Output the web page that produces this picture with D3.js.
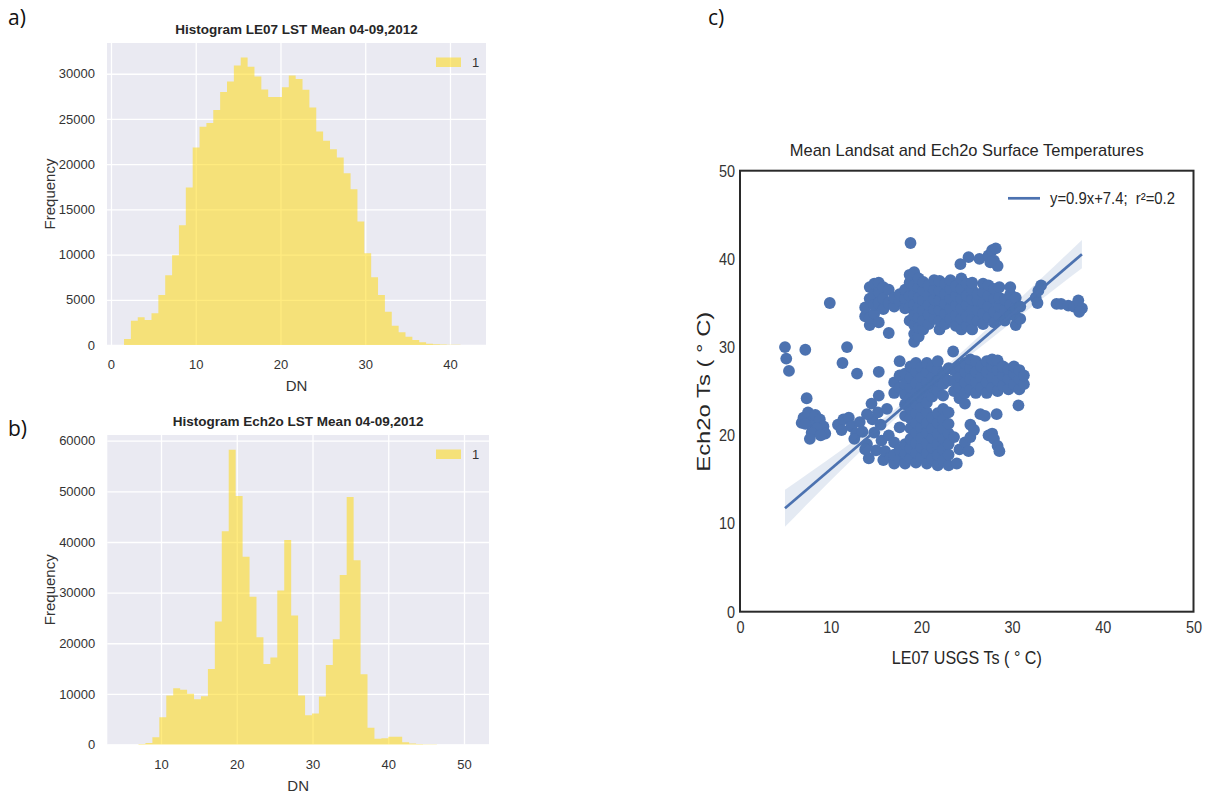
<!DOCTYPE html>
<html><head><meta charset="utf-8">
<script src="https://cdn.jsdelivr.net/npm/d3@7"></script>
<style>
body{margin:0;background:#fff}
svg{display:block}
text{font-family:"Liberation Sans",Arial,sans-serif}
</style>
</head><body>
<svg id="c" width="1206" height="795"></svg>
<script>
// ---------------- DATA ----------------
// Histogram a) LE07 LST mean: 50 bins
const histA_counts = [660,2690,3060,2770,3500,5530,7710,9930,13250,17420,21850,24130,24540,25980,27970,29150,30920,31800,30770,29700,28270,27420,27420,28520,29810,29410,28230,26270,23620,22580,21660,20740,19000,17230,13650,10150,7490,5530,3690,2140,1400,920,550,300,150,80,50,30,20,10];
const histA_binStart = 1.54, histA_binWidth = 0.81;
const histA_xTicks = [0,10,20,30,40];
const histA_yTicks = [0,5000,10000,15000,20000,25000,30000];
const histA_title = "Histogram LE07 LST Mean 04-09,2012";

// Histogram b) Ech2o LST mean: 50 bins
const histB_counts = [10,20,80,300,1450,5400,9700,11100,10800,10000,8950,9540,14900,24300,42100,58200,49100,37100,29200,21200,15900,17200,30400,40400,25500,9700,5800,6100,9500,15700,20800,33500,48900,36400,13900,3300,1120,1250,1520,1520,460,200,100,60,40,20,10,10,5,5];
const histB_binStart = 5.2, histB_binWidth = 0.916;
const histB_xTicks = [10,20,30,40,50];
const histB_yTicks = [0,10000,20000,30000,40000,50000,60000];
const histB_title = "Histogram Ech2o LST Mean 04-09,2012";

const legendLabel = "1";

// Scatter c)
const scatterTicks = [0,10,20,30,40,50];
const scatterTitle = "Mean Landsat and Ech2o Surface Temperatures";
const fitSlope = 0.88, fitIntercept = 7.36;
const fitLabel = "y=0.9x+7.4;\u00a0\u00a0r\u00b2=0.2";
const ciX    = [4.96,8,11,14,17,20,23,26,29,32,35,37.7];
const ciHalf = [2.1,1.6,1.15,0.8,0.55,0.45,0.5,0.65,0.85,1.1,1.35,1.6];

const scatterPoints = [
 // isolated
 [4.96,30.0],[5.1,28.7],[5.4,27.3],[7.2,29.7],[7.35,24.2],[9.9,35.0],[11.8,30.0],[11.3,28.2],[12.9,27.0],[15.3,27.2],[23.5,29.5],[18.8,41.8],[16.4,31.6],
 // left low cluster
 [6.8,21.4],[7.0,22.0],[7.5,22.6],[7.8,21.5],[8.3,22.3],[8.8,21.8],[9.2,21.0],[9.4,20.2],[8.5,20.8],[7.9,20.3],[7.7,19.6],[7.2,21.3],[8.9,20.0],
 // cluster B
 [10.8,21.2],[11.4,21.8],[11.2,20.6],[12.0,22.0],[12.3,21.0],[12.8,20.2],[13.2,21.5],[12.6,19.6],[13.5,20.4],
 // cluster C
 [14.0,19.0],[14.2,17.4],[14.5,23.6],[14.6,21.8],[14.8,20.3],[15.0,18.3],[15.3,24.5],[15.2,22.6],[15.5,21.2],[15.6,19.4],[15.8,17.2],[16.0,18.2],[16.2,23.0],[16.4,20.0],[16.6,17.5],[14.0,22.4],[13.8,18.4],
 // dense lower block
 [17.0,16.8],[17.0,17.8],[17.0,19.2],[17.0,24.8],[17.0,26.0],
 [17.6,17.3],[17.6,18.4],[17.6,20.9],[17.6,25.4],[17.6,26.8],[17.6,28.4],
 [18.2,16.8],[18.2,17.9],[18.2,19.0],[18.2,22.2],[18.2,23.5],[18.2,24.6],[18.2,25.8],[18.2,27.0],
 [18.8,17.4],[18.8,18.5],[18.8,19.6],[18.8,20.8],[18.8,21.9],[18.8,23.0],[18.8,24.2],[18.8,25.4],[18.8,26.5],[18.8,27.8],
 [19.4,16.9],[19.4,18.0],[19.4,19.1],[19.4,20.3],[19.4,21.4],[19.4,22.5],[19.4,23.6],[19.4,24.8],[19.4,25.9],[19.4,27.2],[19.4,28.2],
 [20.0,17.5],[20.0,18.6],[20.0,19.7],[20.0,20.9],[20.0,22.0],[20.0,23.2],[20.0,24.3],[20.0,25.4],[20.0,26.6],[20.0,27.7],
 [20.6,16.8],[20.6,18.0],[20.6,19.1],[20.6,20.3],[20.6,21.4],[20.6,22.6],[20.6,23.7],[20.6,24.9],[20.6,26.0],[20.6,27.2],[20.6,28.2],
 [21.2,17.4],[21.2,18.6],[21.2,19.7],[21.2,20.8],[21.2,22.0],[21.2,24.4],[21.2,25.5],[21.2,26.6],[21.2,27.8],
 [21.8,16.6],[21.8,17.8],[21.8,19.0],[21.8,20.2],[21.8,21.4],[21.8,22.5],[21.8,25.0],[21.8,26.2],[21.8,27.4],[21.8,28.4],
 [22.4,17.2],[22.4,18.4],[22.4,19.6],[22.4,20.8],[22.4,21.8],[22.4,23.0],[22.4,24.5],[22.4,25.8],[22.4,27.0],
 [23.0,16.6],[23.0,17.8],[23.0,19.0],[23.0,20.2],[23.0,21.3],[23.0,22.6],[23.0,26.2],[23.0,27.6],
 // lower right band
 [23.6,25.0],[23.6,26.2],[23.6,27.4],
 [24.2,24.2],[24.2,25.4],[24.2,26.6],[24.2,27.8],
 [24.8,23.6],[24.8,24.8],[24.8,26.0],[24.8,27.2],[24.8,28.2],
 [25.4,25.2],[25.4,26.4],[25.4,27.6],[25.4,28.6],
 [26.0,24.8],[26.0,26.0],[26.0,27.2],[26.0,28.4],
 [26.6,25.4],[26.6,26.6],[26.6,27.8],
 [27.2,24.8],[27.2,26.0],[27.2,27.2],[27.2,28.4],
 [27.8,25.4],[27.8,26.6],[27.8,27.8],[27.8,28.6],
 [28.4,25.0],[28.4,26.2],[28.4,27.4],[28.4,28.5],
 [29.0,25.6],[29.0,26.8],[29.0,27.8],
 [29.6,25.2],[29.6,26.4],[29.6,27.5],
 [30.2,25.8],[30.2,27.0],[30.2,27.8],
 [30.8,25.2],[30.8,26.4],[30.8,27.4],
 [31.3,25.8],[31.3,26.8],[30.7,23.4],
 // right of lower block
 [23.6,19.8],[24.2,18.4],[24.8,19.2],[25.4,19.8],[25.2,18.2],[23.9,16.8],[25.4,21.2],[25.8,20.6],
 [26.5,22.4],[27.0,22.2],[28.3,22.4],
 [27.4,20.0],[27.8,20.2],[28.0,19.6],[28.4,18.8],[28.6,18.2],
 // upper band
 [13.8,33.5],[13.8,34.5],
 [14.3,32.5],[14.3,33.3],[14.3,35.5],[14.3,36.8],
 [14.8,33.8],[14.8,34.8],[14.8,36.0],[14.8,37.2],
 [15.3,32.8],[15.3,35.0],[15.3,36.2],[15.3,37.3],
 [15.8,34.3],[15.8,35.5],[15.8,36.8],
 [16.4,35.0],[16.4,36.5],
 [17.0,34.6],[17.0,35.6],
 [17.6,35.2],[17.6,36.0],
 [18.2,34.4],[18.2,35.5],[18.2,36.5],
 [18.7,33.0],[18.7,34.5],[18.7,35.8],[18.7,37.3],[18.7,38.2],
 [19.2,30.6],[19.2,31.5],[19.2,32.5],[19.2,33.6],[19.2,34.8],[19.2,36.0],[19.2,37.0],[19.2,38.5],
 [19.7,31.2],[19.7,32.2],[19.7,33.4],[19.7,34.5],[19.7,35.6],[19.7,36.8],[19.7,37.8],
 [20.2,32.0],[20.2,33.0],[20.2,34.2],[20.2,35.3],[20.2,36.4],[20.2,37.4],
 [20.8,32.6],[20.8,33.7],[20.8,34.8],[20.8,35.9],[20.8,37.0],
 [21.4,33.2],[21.4,34.3],[21.4,35.4],[21.4,36.5],[21.4,37.6],
 [22.0,32.0],[22.0,33.0],[22.0,34.2],[22.0,35.3],[22.0,36.4],[22.0,37.5],
 [22.6,32.6],[22.6,33.8],[22.6,34.9],[22.6,36.0],[22.6,37.2],
 [23.2,33.2],[23.2,34.4],[23.2,35.5],[23.2,36.6],[23.2,37.6],
 [23.8,32.4],[23.8,33.6],[23.8,34.7],[23.8,35.8],[23.8,36.9],
 [24.4,32.0],[24.4,33.2],[24.4,34.4],[24.4,35.5],[24.4,36.6],[24.4,37.8],
 [25.0,32.4],[25.0,33.5],[25.0,34.8],[25.0,35.8],[25.0,37.2],
 [25.6,32.0],[25.6,33.2],[25.6,34.3],[25.6,35.4],[25.6,36.5],[25.6,37.3],
 [26.2,33.0],[26.2,34.2],[26.2,35.3],[26.2,36.0],
 [26.8,32.6],[26.8,33.8],[26.8,35.0],[26.8,36.2],[26.8,37.2],
 [27.4,33.4],[27.4,34.6],[27.4,35.8],[27.4,37.0],
 [28.0,32.8],[28.0,34.0],[28.0,35.5],[28.0,36.6],
 [28.6,33.5],[28.6,34.6],[28.6,35.6],[28.6,36.8],
 [29.2,33.0],[29.2,34.2],[29.2,35.4],
 [29.8,33.7],[29.8,34.8],[29.8,36.0],[29.8,36.8],
 [30.4,32.5],[30.4,33.5],[30.4,34.4],[30.4,35.6],
 [30.9,33.2],[30.9,34.6],
 // upper outliers
 [24.3,39.4],[25.2,40.2],[26.4,40.0],[27.4,40.4],[27.8,41.0],[28.2,41.2],[28.0,39.8],[28.4,39.2],[27.6,39.6],
 // right group
 [32.6,35.6],[32.9,36.4],[33.2,37.0],[32.8,35.0],[34.9,34.9],[35.4,34.9],[36.2,34.7],[36.8,34.6],[37.3,35.3],[37.7,34.4],[37.4,34.0]
];

// ---------------- DRAW ----------------
const svg = d3.select("#c");
const tickColor = "#333";

function hist(o){
  const x = d3.scaleLinear().domain(o.xDomain).range([o.left,o.right]);
  const y = d3.scaleLinear().domain(o.yDomain).range([o.bottom,o.top]);
  const g = svg.append("g");
  g.append("rect").attr("x",o.left).attr("y",o.top)
    .attr("width",o.right-o.left).attr("height",o.bottom-o.top).attr("fill","#eaeaf2");
  // grid
  g.append("g").attr("transform",`translate(0,${o.bottom})`)
    .call(d3.axisBottom(x).tickValues(o.xTicks).tickSize(-(o.bottom-o.top)).tickFormat(""))
    .call(s=>{s.select(".domain").remove(); s.selectAll("line").attr("stroke","#fff").attr("stroke-width",1.3);});
  g.append("g").attr("transform",`translate(${o.left},0)`)
    .call(d3.axisLeft(y).tickValues(o.yTicks).tickSize(-(o.right-o.left)).tickFormat(""))
    .call(s=>{s.select(".domain").remove(); s.selectAll("line").attr("stroke","#fff").attr("stroke-width",1.3);});
  // bars (single step path, no seams)
  const bins = o.counts.map((c,i)=>({x0:o.start+i*o.width, c}));
  bins.push({x0:o.start+o.counts.length*o.width, c:o.counts[o.counts.length-1]});
  const area = d3.area().x(d=>x(d.x0)).y0(y(0)).y1(d=>y(d.c)).curve(d3.curveStepAfter);
  g.append("path").datum(bins).attr("d",area).attr("fill","#FFD700").attr("fill-opacity",0.5);
  // tick labels
  g.append("g").attr("transform",`translate(0,${o.bottom})`)
    .call(d3.axisBottom(x).tickValues(o.xTicks).tickSize(0).tickPadding(15))
    .call(s=>{s.select(".domain").remove(); s.selectAll("text").attr("fill",tickColor).style("font-size","13px").style("font-family","Liberation Sans, Arial, sans-serif");});
  g.append("g").attr("transform",`translate(${o.left},0)`)
    .call(d3.axisLeft(y).tickValues(o.yTicks).tickSize(0).tickPadding(12).tickFormat(d3.format("d")))
    .call(s=>{s.select(".domain").remove(); s.selectAll("text").attr("fill",tickColor).style("font-size","13px").style("font-family","Liberation Sans, Arial, sans-serif");});
  // title
  g.append("text").attr("x",(o.left+o.right)/2).attr("y",o.titleY).attr("text-anchor","middle")
    .attr("font-weight","bold").attr("font-size",13.5).attr("fill","#262626").text(o.title);
  // axis labels
  g.append("text").attr("x",(o.left+o.right)/2).attr("y",o.bottom+46).attr("text-anchor","middle")
    .attr("font-size",15).attr("fill",tickColor).text("DN");
  g.append("text").attr("transform",`translate(55,${(o.top+o.bottom)/2}) rotate(-90)`).attr("text-anchor","middle")
    .attr("font-size",15).attr("fill",tickColor).text("Frequency");
  // legend
  g.append("rect").attr("x",436).attr("y",o.top+14.5).attr("width",25).attr("height",9.5)
    .attr("fill","#FFD700").attr("fill-opacity",0.5);
  g.append("text").attr("x",472).attr("y",o.top+24).attr("font-size",13).attr("fill",tickColor).text(legendLabel);
}

hist({left:107,right:486,top:43,bottom:345,xDomain:[-0.47,44.25],yDomain:[0,33400],
  counts:histA_counts,start:histA_binStart,width:histA_binWidth,xTicks:histA_xTicks,yTicks:histA_yTicks,
  title:histA_title,titleY:33.5});
hist({left:107.3,right:489,top:435,bottom:744.5,xDomain:[2.91,53.3],yDomain:[0,61130],
  counts:histB_counts,start:histB_binStart,width:histB_binWidth,xTicks:histB_xTicks,yTicks:histB_yTicks,
  title:histB_title,titleY:425.5});

// panel labels
svg.append("text").attr("x",8).attr("y",25).attr("font-size",21).attr("fill","#111").style("font-family","Open Sans, sans-serif").text("a)");
svg.append("text").attr("x",8).attr("y",436).attr("font-size",21).attr("fill","#111").style("font-family","Open Sans, sans-serif").text("b)");
svg.append("text").attr("x",708).attr("y",25).attr("font-size",21).attr("fill","#111").style("font-family","Open Sans, sans-serif").text("c)");

// ---------- scatter ----------
const sc = {left:740,right:1193.5,top:170.7,bottom:611.7};
const sx = d3.scaleLinear().domain([0,50]).range([sc.left,sc.right]);
const sy = d3.scaleLinear().domain([0,50]).range([sc.bottom,sc.top]);
const blue = "#4C72B0";
const sg = svg.append("g");

sg.selectAll("circle").data(scatterPoints).join("circle")
  .attr("cx",d=>sx(d[0])).attr("cy",d=>sy(d[1])).attr("r",5.9).attr("fill",blue);

const xr = d3.extent(scatterPoints,d=>d[0]);
const band = d3.area().x(d=>sx(d)).y0((d,i)=>sy(fitSlope*d+fitIntercept-ciHalf[i])).y1((d,i)=>sy(fitSlope*d+fitIntercept+ciHalf[i])).curve(d3.curveMonotoneX);
sg.append("path").datum(ciX).attr("d",band).attr("fill",blue).attr("fill-opacity",0.15);
sg.append("line").attr("x1",sx(xr[0])).attr("y1",sy(fitSlope*xr[0]+fitIntercept))
  .attr("x2",sx(xr[1])).attr("y2",sy(fitSlope*xr[1]+fitIntercept))
  .attr("stroke",blue).attr("stroke-width",2.7);

// frame
sg.append("rect").attr("x",sc.left).attr("y",sc.top).attr("width",sc.right-sc.left).attr("height",sc.bottom-sc.top)
  .attr("fill","none").attr("stroke","#2a2a2a").attr("stroke-width",2);

const styleTicks = s=>{
  s.select(".domain").remove();
  s.selectAll("text").attr("fill",tickColor).style("font-size","17px").style("font-family","Liberation Sans, Arial, sans-serif")
    .attr("textLength",function(){return this.getComputedTextLength()*0.85;}).attr("lengthAdjust","spacingAndGlyphs");
};
sg.append("g").attr("transform",`translate(0,${sc.bottom})`)
  .call(d3.axisBottom(sx).tickValues(scatterTicks).tickSize(0).tickPadding(9)).call(styleTicks);
sg.append("g").attr("transform",`translate(${sc.left},0)`)
  .call(d3.axisLeft(sy).tickValues(scatterTicks).tickSize(0).tickPadding(5)).call(styleTicks);

sg.append("text").attr("x",(sc.left+sc.right)/2).attr("y",156).attr("text-anchor","middle")
  .attr("font-size",17).attr("fill","#262626").attr("textLength",354).attr("lengthAdjust","spacingAndGlyphs").text(scatterTitle);
sg.append("text").attr("x",(sc.left+sc.right)/2).attr("y",664).attr("text-anchor","middle")
  .attr("font-size",19).attr("fill","#262626").attr("textLength",150).attr("lengthAdjust","spacingAndGlyphs").text("LE07 USGS Ts ( \u00b0 C)");
sg.append("text").attr("transform",`translate(710,391.7) rotate(-90)`).attr("text-anchor","middle")
  .attr("font-size",18).attr("fill","#262626").attr("textLength",160).attr("lengthAdjust","spacingAndGlyphs").text("Ech2o Ts ( \u00b0 C)");

// legend
sg.append("line").attr("x1",1008).attr("x2",1040).attr("y1",198.3).attr("y2",198.3).attr("stroke",blue).attr("stroke-width",2.7);
sg.append("text").attr("x",1050).attr("y",204).attr("font-size",16).attr("fill","#262626")
  .attr("textLength",125).attr("lengthAdjust","spacingAndGlyphs").text(fitLabel);
</script>
</body></html>
